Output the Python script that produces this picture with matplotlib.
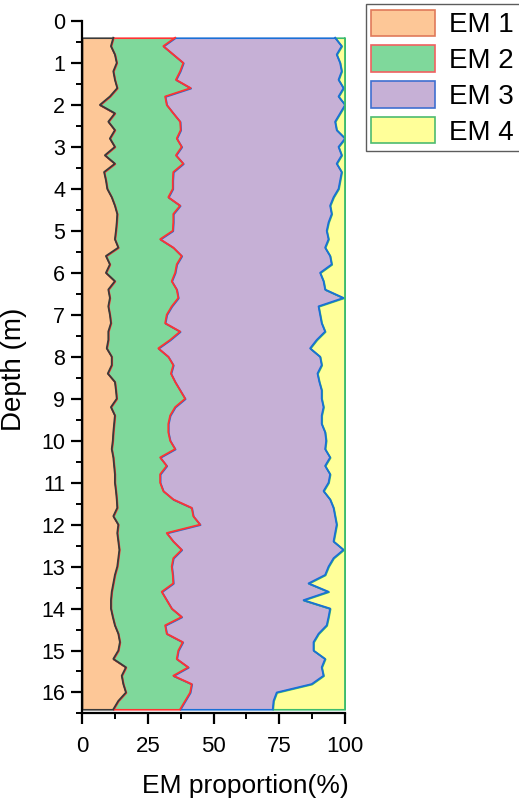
import matplotlib
matplotlib.use("Agg")
import matplotlib.pyplot as plt
from matplotlib.patches import Patch
from matplotlib.ticker import MultipleLocator
import numpy as np

plt.rcParams['font.family'] = ['Liberation Sans', 'DejaVu Sans']

depth = [0.4, 0.6, 0.8, 1.0, 1.2, 1.4, 1.6, 1.8, 2.0, 2.2, 2.4, 2.6, 2.8, 3.0, 3.2, 3.4,
         3.6, 3.8, 4.0, 4.2, 4.4, 4.6, 4.8, 5.0, 5.2, 5.4, 5.6, 5.8, 6.0, 6.2, 6.4, 6.6,
         6.8, 7.0, 7.2, 7.4, 7.6, 7.8, 8.0, 8.2, 8.4, 8.6, 8.8, 9.0, 9.2, 9.4, 9.6, 9.8,
         10.0, 10.2, 10.4, 10.6, 10.8, 11.0, 11.2, 11.4, 11.6, 11.8, 12.0, 12.2, 12.4,
         12.6, 12.8, 13.0, 13.2, 13.4, 13.6, 13.8, 14.0, 14.2, 14.4, 14.6, 14.8, 15.0,
         15.2, 15.4, 15.6, 15.8, 16.0, 16.2, 16.4]

em1 = [11.9, 11.0, 12.5, 13.2, 11.9, 12.5, 13.4, 10.6, 6.8, 12.5, 10.0, 12.5, 10.6, 12.5,
       8.7, 12.5, 8.4, 9.1, 9.6, 11.3, 12.5, 13.4, 13.2, 12.9, 12.5, 13.8, 9.1, 10.6, 9.1,
       12.5, 10.0, 10.6, 10.0, 10.6, 11.0, 10.0, 10.0, 9.4, 11.3, 11.3, 9.8, 12.5, 12.9,
       13.2, 11.0, 12.5, 12.2, 11.9, 11.7, 11.3, 11.9, 12.2, 12.5, 12.5, 12.9, 13.2, 13.4,
       11.9, 13.8, 13.4, 13.8, 14.2, 13.8, 13.4, 12.5, 11.9, 11.3, 11.0, 11.0, 11.7, 12.5,
       13.8, 14.4, 13.8, 11.9, 16.7, 15.1, 15.7, 16.7, 13.8, 11.9]

em2 = [23.5, 19.9, 22.2, 25.3, 25.4, 23.2, 27.9, 21.0, 25.4, 22.2, 27.3, 25.0, 25.4, 25.4,
       27.0, 26.0, 26.3, 25.4, 24.9, 21.5, 24.8, 21.3, 21.5, 21.6, 17.2, 20.9, 28.8, 25.4,
       26.3, 21.6, 26.0, 26.0, 24.1, 21.6, 20.6, 27.3, 23.5, 19.6, 21.5, 23.4, 24.0, 22.9,
       24.4, 26.0, 24.4, 21.0, 20.6, 20.9, 21.8, 24.1, 17.8, 20.0, 17.2, 17.2, 18.0, 21.5,
       28.3, 30.4, 31.1, 18.8, 20.9, 23.7, 20.9, 20.7, 22.0, 22.8, 19.0, 21.2, 23.1, 26.2,
       19.1, 18.4, 23.9, 22.8, 24.1, 23.7, 19.6, 26.0, 24.4, 25.4, 25.4]

em3 = [60.8, 67.8, 62.1, 59.6, 61.4, 61.8, 58.1, 65.9, 67.8, 63.4, 58.9, 59.3, 64.0, 59.6,
       63.0, 58.3, 64.0, 63.6, 63.0, 62.8, 57.0, 60.2, 59.0, 58.5, 64.0, 57.7, 56.4, 58.9,
       55.1, 57.7, 56.4, 62.8, 55.8, 58.3, 59.5, 55.1, 55.7, 57.7, 57.7, 56.4, 55.7, 54.8,
       53.8, 51.9, 56.4, 57.6, 58.3, 59.6, 59.3, 57.0, 64.6, 60.2, 64.6, 64.0, 60.9, 59.6,
       53.9, 53.9, 51.9, 64.0, 60.9, 61.5, 60.9, 59.6, 57.9, 51.4, 63.4, 52.0, 60.2, 55.8,
       61.4, 57.7, 49.7, 51.4, 56.4, 50.7, 57.1, 45.6, 32.9, 33.6, 35.2]

em4 = [3.8, 1.3, 3.2, 1.9, 1.3, 2.5, 0.6, 2.5, 0.0, 1.9, 3.8, 3.2, 0.0, 2.5, 1.3, 3.2, 1.3,
       1.9, 2.5, 4.4, 5.7, 5.1, 6.3, 7.0, 6.3, 7.6, 5.7, 5.1, 9.5, 8.2, 7.6, 0.6, 10.1, 9.5,
       8.9, 7.6, 10.8, 13.3, 9.5, 8.9, 10.5, 9.8, 8.9, 8.9, 8.2, 8.9, 8.9, 7.6, 7.2, 7.6,
       5.7, 7.6, 5.7, 6.3, 8.2, 5.7, 4.4, 3.8, 3.2, 3.8, 4.4, 0.6, 4.4, 6.3, 7.6, 13.9, 6.3,
       15.8, 5.7, 6.3, 7.0, 10.1, 12.0, 12.0, 7.6, 8.9, 8.2, 12.7, 26.0, 27.2, 27.5]

labels = ['EM 1', 'EM 2', 'EM 3', 'EM 4']
fills = ['#FDC797', '#7FD89B', '#C6B0D6', '#FFFF99']
edges = ['#3A3A3A', '#FF3333', '#1A6FD6', '#3DBB6E']
legend_edges = ['#E07A5A', '#F06060', '#3F6FD0', '#4DBB70']

series = [em1, em2, em3, em4]
d = np.array(depth)

fig = plt.figure(figsize=(5.19, 8.05), dpi=100)
ax = fig.add_axes([0.158, 0.1137, 0.507, 0.8603])

base = np.zeros(len(depth))
for vals, fc, ec in zip(series, fills, edges):
    top = base + np.array(vals)
    ax.fill_betweenx(d, base, top, facecolor=fc, edgecolor=ec, linewidth=1.2, zorder=2)
    base = top

cum = np.zeros(len(depth))
for vals, ec in zip(series[:3], edges[:3]):
    cum = cum + np.array(vals)
    ax.plot(cum, d, color=ec, lw=1.3, zorder=3)
ax.plot(cum + np.array(em4), d, color=edges[3], lw=1.3, zorder=3)

ax.set_xlim(0, 100)
ax.set_ylim(16.5, 0)
ax.xaxis.set_major_locator(MultipleLocator(25))
ax.xaxis.set_minor_locator(MultipleLocator(12.5))
ax.yaxis.set_major_locator(MultipleLocator(1))
ax.yaxis.set_minor_locator(MultipleLocator(0.5))
for s in ['top', 'right']:
    ax.spines[s].set_visible(False)
for s in ['left', 'bottom']:
    ax.spines[s].set_linewidth(1.6)
ax.tick_params(which='major', direction='out', length=8, width=1.6, labelsize=15.5, pad=4)
ax.tick_params(axis='x', which='major', labelsize=16, pad=8)
ax.tick_params(which='minor', direction='out', length=4.5, width=1.4)
ax.set_xlabel('EM proportion(%)', fontsize=19)
ax.xaxis.set_label_coords(0.62, -0.088)
ax.set_ylabel('Depth (m)', fontsize=20)
ax.yaxis.set_label_coords(-0.21, 0.497)

handles = [Patch(facecolor=fc, edgecolor=ec, linewidth=1.2) for fc, ec in zip(fills, legend_edges)]
leg = fig.legend(handles, labels, loc='upper left', bbox_to_anchor=(0.705, 0.995),
                 fontsize=20, frameon=True, fancybox=False, edgecolor='#333333',
                 handlelength=2.3, handleheight=1.1, labelspacing=0.25,
                 handletextpad=0.5, borderpad=0.2, borderaxespad=0.0)
leg.get_frame().set_linewidth(1.0)

fig.savefig('out.png', dpi=100)
